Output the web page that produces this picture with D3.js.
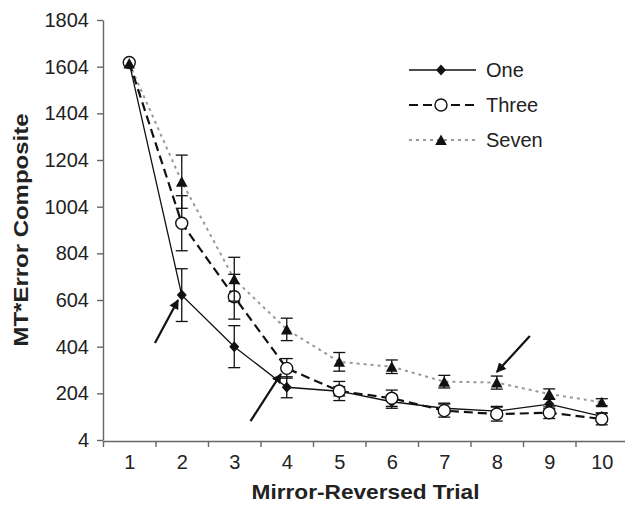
<!DOCTYPE html>
<html>
<head>
<meta charset="utf-8">
<script src="https://cdn.jsdelivr.net/npm/d3@7/dist/d3.min.js"></script>
<style>
  body { margin: 0; background: #fff; }
  text { font-family: "Liberation Sans", Arial, Helvetica, sans-serif; fill: #222; }
</style>
</head>
<body>
<div id="graph"></div>
<script>
// data
const trials = [1, 2, 3, 4, 5, 6, 7, 8, 9, 10];
const yTicks = [4, 204, 404, 604, 804, 1004, 1204, 1404, 1604, 1804];

const oneMean   = [1620, 625, 404, 230, 213, 168, 140, 128, 158, 105];
const oneErr    = [0, 113, 90, 45, 20, 28, 22, 20, 20, 15];
const threeMean = [1622, 933, 618, 311, 214, 183, 130, 115, 121, 94];
const threeErr  = [0, 118, 96, 42, 41, 35, 28, 30, 25, 25];
const sevenMean = [1618, 1111, 693, 478, 339, 318, 254, 250, 201, 166];
const sevenErr  = [0, 114, 94, 48, 40, 29, 27, 28, 22, 15];

const seriesNames = ["One", "Three", "Seven"];

// arrows: [trial, value] start -> tip
const arrowFrom = [[1.49, 420], [3.31, 85], [8.63, 450]];
const arrowTo   = [[1.93, 604], [3.89, 287], [8.00, 295]];

const width = 625, height = 507;
const margin = { top: 20, right: -3, bottom: 67, left: 103 };

const svg = d3.select("#graph")
  .append("svg")
  .attr("width", width)
  .attr("height", height);

// scales
const x = d3.scalePoint()
  .domain(trials)
  .range([margin.left, width - margin.right])
  .padding(0.5);
const xEdge = d3.scaleLinear()
  .domain([0.5, 10.5])
  .range([margin.left, width - margin.right]);
const xNum = d3.scaleLinear()
  .domain([1, 10])
  .range([x(1), x(10)]);
const y = d3.scaleLinear()
  .domain([4, 1804])
  .range([height - margin.bottom, margin.top]);

const axisCol = "#666";

// y axis
const gy = svg.append("g")
  .attr("transform", `translate(${margin.left},0)`)
  .call(d3.axisLeft(y).tickValues(yTicks).tickFormat(d3.format("d"))
    .tickSize(6).tickSizeOuter(0).tickPadding(8));
gy.selectAll("text").attr("font-size", "20px").style("font-family", null);

// x axis: ticks between trials, labels under each trial
const xBase = height - margin.bottom + 1;
const gx = svg.append("g")
  .attr("transform", `translate(0,${xBase})`)
  .call(d3.axisBottom(xEdge).tickValues(d3.range(0.5, 10, 1)).tickFormat("").tickSize(6).tickSizeOuter(0));
const gxl = svg.append("g")
  .attr("transform", `translate(0,${xBase})`)
  .call(d3.axisBottom(x).tickSize(0).tickPadding(14));
gxl.select(".domain").remove();
gxl.selectAll("text").attr("font-size", "20px").style("font-family", null);

svg.selectAll(".domain, .tick line").attr("stroke", axisCol).attr("stroke-width", 1.4);
svg.selectAll(".tick text").attr("fill", "#222");

// axis titles
svg.append("text")
  .attr("x", xEdge(5.5))
  .attr("y", 499)
  .attr("text-anchor", "middle")
  .attr("font-size", "21px")
  .attr("font-weight", "bold")
  .attr("textLength", 228)
  .attr("lengthAdjust", "spacingAndGlyphs")
  .text("Mirror-Reversed Trial");

svg.append("text")
  .attr("transform", `translate(28,${y(904)}) rotate(-90)`)
  .attr("text-anchor", "middle")
  .attr("font-size", "21px")
  .attr("font-weight", "bold")
  .attr("textLength", 233)
  .attr("lengthAdjust", "spacingAndGlyphs")
  .text("MT*Error Composite");

// styles per series
const styles = {
  One:   { stroke: "#111", width: 1.3, dash: null,  marker: "diamond" },
  Three: { stroke: "#111", width: 2.2, dash: "9,5", marker: "circle" },
  Seven: { stroke: "#999", width: 2,   dash: "3,4", marker: "triangle" }
};
const seriesData = {
  One:   trials.map((t, i) => ({ t, m: oneMean[i],   e: oneErr[i] })),
  Three: trials.map((t, i) => ({ t, m: threeMean[i], e: threeErr[i] })),
  Seven: trials.map((t, i) => ({ t, m: sevenMean[i], e: sevenErr[i] }))
};

const shapes = {
  diamond: "M0,-5.5L5,0L0,5.5L-5,0Z",
  triangle: "M0,-5.5L5.8,5L-5.8,5Z"
};

function drawMarker(g, kind) {
  if (kind === "circle") {
    g.append("circle").attr("r", 6).attr("fill", "#fff").attr("stroke", "#111").attr("stroke-width", 1.4);
  } else {
    g.append("path").attr("d", shapes[kind]).attr("fill", "#111");
  }
}

const line = d3.line().x(d => x(d.t)).y(d => y(d.m));

// lines first (back to front: Seven, Three, One)
["Seven", "Three", "One"].forEach(name => {
  const s = styles[name];
  svg.append("path")
    .datum(seriesData[name])
    .attr("fill", "none")
    .attr("stroke", s.stroke)
    .attr("stroke-width", s.width)
    .attr("stroke-dasharray", s.dash)
    .attr("d", line);
});

// error bars and markers
seriesNames.forEach(name => {
  const s = styles[name];
  const g = svg.append("g");
  const eb = g.selectAll("g.err")
    .data(seriesData[name].filter(d => d.e > 0))
    .enter().append("g")
    .attr("stroke", "#111")
    .attr("stroke-width", 1.3);
  eb.append("line")
    .attr("x1", d => x(d.t)).attr("x2", d => x(d.t))
    .attr("y1", d => y(d.m - d.e)).attr("y2", d => y(d.m + d.e));
  eb.append("line")
    .attr("x1", d => x(d.t) - 6).attr("x2", d => x(d.t) + 6)
    .attr("y1", d => y(d.m + d.e)).attr("y2", d => y(d.m + d.e));
  eb.append("line")
    .attr("x1", d => x(d.t) - 6).attr("x2", d => x(d.t) + 6)
    .attr("y1", d => y(d.m - d.e)).attr("y2", d => y(d.m - d.e));

  g.selectAll("g.pt")
    .data(seriesData[name])
    .enter().append("g")
    .attr("transform", d => `translate(${x(d.t)},${y(d.m)})`)
    .each(function () { drawMarker(d3.select(this), s.marker); });
});

// arrows
svg.append("defs").append("marker")
  .attr("id", "head")
  .attr("viewBox", "0 0 10 10")
  .attr("refX", 9).attr("refY", 5)
  .attr("markerWidth", 4.5).attr("markerHeight", 4.5)
  .attr("markerUnits", "strokeWidth")
  .attr("orient", "auto")
  .append("path").attr("d", "M0,0L10,5L0,10Z").attr("fill", "#111");

arrowFrom.forEach((a, i) => {
  const b = arrowTo[i];
  svg.append("line")
    .attr("x1", xNum(a[0])).attr("y1", y(a[1]))
    .attr("x2", xNum(b[0])).attr("y2", y(b[1]))
    .attr("stroke", "#111")
    .attr("stroke-width", 2.2)
    .attr("marker-end", "url(#head)");
});

// legend
const legY = [70, 105, 140];
const leg = svg.append("g");
seriesNames.forEach((name, i) => {
  const s = styles[name];
  leg.append("line")
    .attr("x1", 409).attr("x2", 476)
    .attr("y1", legY[i]).attr("y2", legY[i])
    .attr("stroke", s.stroke)
    .attr("stroke-width", s.width)
    .attr("stroke-dasharray", s.dash);
  const m = leg.append("g").attr("transform", `translate(441,${legY[i]})`);
  if (s.marker === "circle") m.append("rect").attr("x", -9).attr("y", -3).attr("width", 18).attr("height", 6).attr("fill", "#fff");
  drawMarker(m, s.marker);
  leg.append("text")
    .attr("x", 486).attr("y", legY[i])
    .attr("dy", "0.36em")
    .attr("font-size", "20px")
    .text(name);
});
</script>
</body>
</html>
